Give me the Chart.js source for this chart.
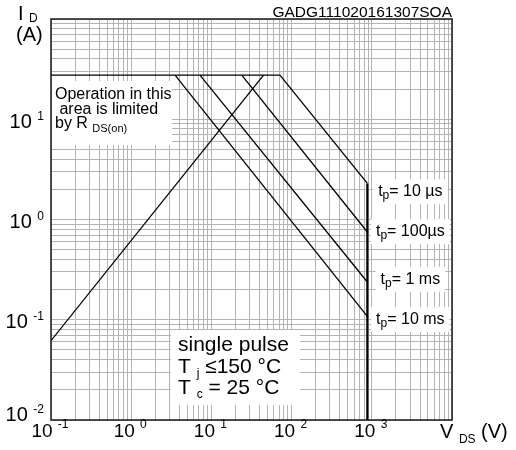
<!DOCTYPE html>
<html>
<head>
<meta charset="utf-8">
<script src="https://cdn.jsdelivr.net/npm/chart.js@4.4.0/dist/chart.umd.min.js"></script>
<style>
  html, body { margin: 0; padding: 0; background: #fff; }
  #wrap { position: relative; width: 516px; height: 450px; }
</style>
</head>
<body>
<div id="wrap"><canvas id="soa" width="516" height="450"></canvas></div>
<script>
(function () {
    "use strict";

    // safe operating area data
    const pulseLabels = ["10 µs", "100µs", "1 ms", "10 ms"];
    const kneeVds = [71.6, 23.9, 7.2, 3.52];      // V, where each pulse curve leaves the I_D max line
    const endId = [2.29, 0.75, 0.238, 0.108];      // A, at the V_DS limit
    const labelId = [1.71, 0.684, 0.228, 0.0908];  // A, baseline of each pulse label
    const idMax = 27.6;
    const vdsMax = 880;
    const rdsVds = [0.1, 44.7];
    const rdsId = [0.0618, 27.6];
    const xTicks = [0.1, 1, 10, 100, 1000];
    const yTicks = [0.01, 0.1, 1, 10];

    const FONT = "'Liberation Sans', Arial, sans-serif";
    const GRID = "#b4b4b4";

    function logTicks(min, max) {
        var out = [];
        for (var e = Math.round(Math.log10(min)); e < Math.round(Math.log10(max)); e++) {
            for (var m = 1; m < 10; m++) {
                out.push({ value: +(m * Math.pow(10, e)).toPrecision(3) });
            }
        }
        out.push({ value: max });
        return out;
    }

    // draw a run of text pieces: [text, size, dy]
    function rich(ctx, parts, x, y, align) {
        var total = 0;
        var widths = parts.map(function (p) {
            ctx.font = p[1] + "px " + FONT;
            var w = ctx.measureText(p[0]).width;
            total += w;
            return w;
        });
        var cx = align === "center" ? x - total / 2 : align === "right" ? x - total : x;
        var start = cx;
        parts.forEach(function (p, i) {
            ctx.font = p[1] + "px " + FONT;
            ctx.fillText(p[0], cx, y + (p[2] || 0));
            cx += widths[i];
        });
        return { left: start, right: cx };
    }

    function whiteBox(ctx, x1, y1, x2, y2) {
        ctx.fillStyle = "#fff";
        ctx.fillRect(x1, y1, x2 - x1, y2 - y1);
        ctx.fillStyle = "#000";
    }

    var datasets = [];
    datasets.push({ data: [{ x: xTicks[0], y: idMax }, { x: kneeVds[0], y: idMax }], borderWidth: 1.3 });
    datasets.push({ data: [{ x: rdsVds[0], y: rdsId[0] }, { x: rdsVds[1], y: rdsId[1] }], borderWidth: 1.3 });
    for (var i = 0; i < kneeVds.length; i++) {
        datasets.push({ data: [{ x: kneeVds[i], y: idMax }, { x: vdsMax, y: endId[i] }], borderWidth: 1.3 });
    }
    datasets.push({ data: [{ x: vdsMax, y: endId[0] }, { x: vdsMax, y: yTicks[0] }], borderWidth: 2.2 });
    datasets.forEach(function (d) {
        d.borderColor = "#000";
        d.pointRadius = 0;
        d.fill = false;
        d.tension = 0;
    });

    const annotations = {
        id: "annotations",
        beforeDraw: function (chart) {
            var ctx = chart.ctx;
            ctx.save();
            ctx.fillStyle = "#fff";
            ctx.fillRect(0, 0, chart.width, chart.height);
            ctx.restore();
        },
        afterDatasetsDraw: function (chart) {
            var ctx = chart.ctx;
            var a = chart.chartArea;
            var xs = chart.scales.x;
            var ys = chart.scales.y;
            ctx.save();
            ctx.textBaseline = "alphabetic";
            ctx.textAlign = "left";
            ctx.fillStyle = "#000";

            // R DS(on) note
            whiteBox(ctx, a.left + 1, a.top + 62, a.left + 121, a.top + 126);
            rich(ctx, [["Operation in this", 16]], a.left + 4, a.top + 80);
            rich(ctx, [[" area is limited", 16]], a.left + 4, a.top + 94.5);
            rich(ctx, [["by R ", 16], ["DS(on)", 11, 4]], a.left + 4, a.top + 108.5);

            // conditions
            whiteBox(ctx, a.left + 120, a.top + 311, a.left + 249, a.top + 386);
            rich(ctx, [["single pulse", 21]], a.left + 127, a.top + 332);
            rich(ctx, [["T ", 21], ["j", 12, 4], [" ≤150 °C", 21]], a.left + 127, a.top + 354);
            rich(ctx, [["T ", 21], ["c", 12, 4], [" = 25 °C", 21]], a.left + 127, a.top + 375);

            // pulse labels
            var vx = xs.getPixelForValue(vdsMax);
            pulseLabels.forEach(function (lab, k) {
                var by = ys.getPixelForValue(labelId[k]);
                var parts = [["t", 16], ["p", 12, 3], ["= " + lab, 16]];
                ctx.fillStyle = "rgba(0,0,0,0)";
                var ext = rich(ctx, parts, vx + 43, by, "center");
                whiteBox(ctx, ext.left - 5, by - 17, ext.right + 5, by + 8);
                rich(ctx, parts, vx + 43, by, "center");
            });
            ctx.restore();
        },
        afterDraw: function (chart) {
            var ctx = chart.ctx;
            var a = chart.chartArea;
            var xs = chart.scales.x;
            var ys = chart.scales.y;
            ctx.save();
            ctx.strokeStyle = "#1a1a1a";
            ctx.lineWidth = 1.5;
            ctx.strokeRect(a.left, a.top, a.right - a.left, a.bottom - a.top);

            ctx.fillStyle = "#000";
            ctx.textBaseline = "alphabetic";
            ctx.textAlign = "left";

            xTicks.forEach(function (v) {
                var e = Math.round(Math.log10(v));
                rich(ctx, [["10 ", 19], [String(e), 12, -9]], xs.getPixelForValue(v) - 1, a.bottom + 17, "center");
            });
            yTicks.forEach(function (v) {
                var e = Math.round(Math.log10(v));
                var y = Math.min(ys.getPixelForValue(v) + 8.5, a.bottom + 0.5);
                rich(ctx, [["10 ", 20], [String(e), 12, -8]], a.left - 7, y, "right");
            });

            // axis titles
            rich(ctx, [["I ", 20], ["D", 12, 2]], 18, 20);
            rich(ctx, [["(A)", 20]], 16, 41);
            rich(ctx, [["V ", 20], ["DS", 12, 5], [" (V)", 20]], a.right - 12, a.bottom + 18);

            ctx.font = "15.5px " + FONT;
            ctx.textAlign = "right";
            ctx.fillText("GADG111020161307SOA", a.right, 17);
            ctx.restore();
        }
    };

    const ctx = document.getElementById("soa").getContext("2d");
    new Chart(ctx, {
        type: "line",
        data: { datasets: datasets },
        options: {
            responsive: false,
            animation: false,
            layout: { padding: { left: 51, right: 64, top: 19, bottom: 30 } },
            plugins: {
                legend: { display: false },
                tooltip: { enabled: false }
            },
            scales: {
                x: {
                    type: "logarithmic",
                    min: 0.1,
                    max: 10000,
                    ticks: { display: false },
                    grid: { color: GRID, lineWidth: 1, drawTicks: false },
                    border: { display: false },
                    afterBuildTicks: function (s) { s.ticks = logTicks(0.1, 10000); },
                    afterFit: function (s) { s.height = 0; }
                },
                y: {
                    type: "logarithmic",
                    min: 0.01,
                    max: 100,
                    ticks: { display: false },
                    grid: { color: GRID, lineWidth: 1, drawTicks: false },
                    border: { display: false },
                    afterBuildTicks: function (s) { s.ticks = logTicks(0.01, 100); },
                    afterFit: function (s) { s.width = 0; }
                }
            }
        },
        plugins: [annotations]
    });
})();
</script>
</body>
</html>
